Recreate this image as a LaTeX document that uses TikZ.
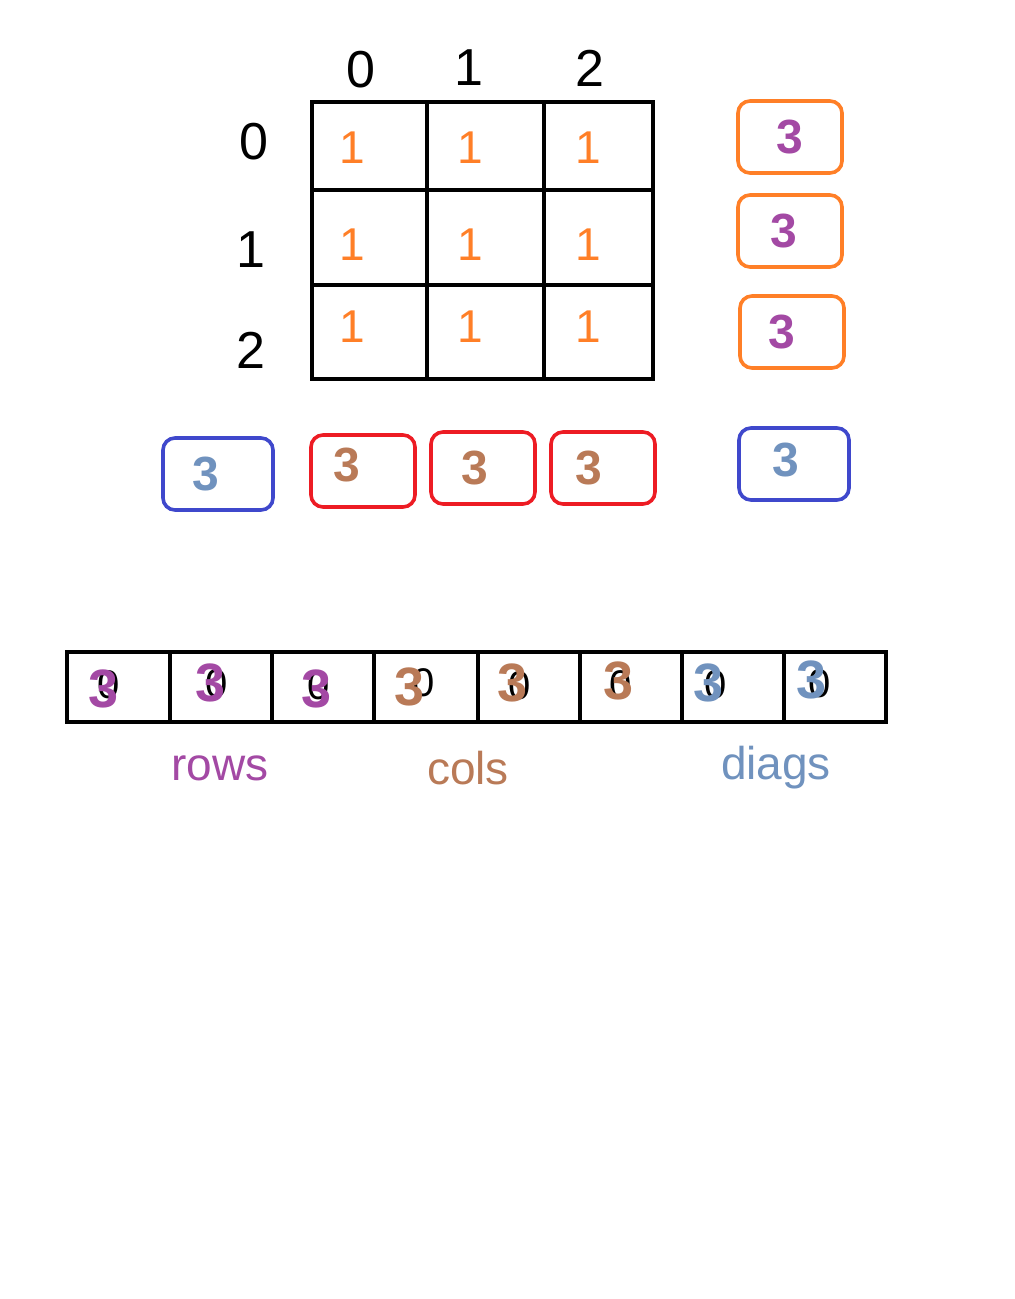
\documentclass[tikz,border=0pt]{standalone}
\usepackage{fontspec}
\setmainfont{Liberation Sans}
\usetikzlibrary{positioning}
\definecolor{paintorange}{HTML}{FF7F27}
\definecolor{paintpurple}{HTML}{A349A4}
\definecolor{paintbrown}{HTML}{B97A57}
\definecolor{paintsteel}{HTML}{7092BE}
\definecolor{paintblue}{HTML}{3F48CC}
\definecolor{paintred}{HTML}{ED1C24}
\tikzset{
  gridline/.style={line width=2pt, draw=black},
  idxlabel/.style={font=\fontsize{26}{28}\selectfont, text=black, inner sep=0pt},
  onecell/.style={font=\fontsize{23}{25}\selectfont, text=paintorange, inner sep=0pt},
  sumbox/.style={rectangle, rounded corners=6pt, line width=1.8pt, fill=white,
    minimum width=52pt, minimum height=36pt, inner sep=0pt},
  rowbox/.style={sumbox, draw=paintorange},
  colbox/.style={sumbox, draw=paintred},
  diagbox/.style={sumbox, draw=paintblue, minimum width=55pt},
  three/.style={font=\bfseries\fontsize{24}{26}\selectfont, inner sep=0pt},
  bigthree/.style={font=\bfseries\fontsize{27}{29}\selectfont, inner sep=0pt},
  zero/.style={font=\fontsize{20}{22}\selectfont, text=black, inner sep=0pt},
  arrlabel/.style={font=\fontsize{23}{25}\selectfont, inner sep=0pt}
}

\begin{document}
\begin{tikzpicture}[x=0.5pt, y=-0.5pt]
\useasboundingbox[fill=white] (0,0) rectangle (1015,1299);

% board
\draw[gridline] (312,102) rectangle (653,379);
\draw[gridline] (427,102) -- (427,379);
\draw[gridline] (544,102) -- (544,379);
\draw[gridline] (312,190) -- (653,190);
\draw[gridline] (312,285) -- (653,285);

\node[idxlabel] (c0) at (361,70) {0};
\node[idxlabel] (c1) at (469,68) {1};
\node[idxlabel] (c2) at (590,68) {2};
\node[idxlabel] (r0) at (254,142) {0};
\node[idxlabel] (r1) at (251,250) {1};
\node[idxlabel] (r2) at (251,350) {2};

\node[onecell] (m00) at (352,148) {1};
\node[onecell] (m01) at (470,148) {1};
\node[onecell] (m02) at (588,148) {1};
\node[onecell] (m10) at (352,245) {1};
\node[onecell] (m11) at (470,245) {1};
\node[onecell] (m12) at (588,245) {1};
\node[onecell] (m20) at (352,327) {1};
\node[onecell] (m21) at (470,327) {1};
\node[onecell] (m22) at (588,327) {1};

% row sums
\node[rowbox] (rs0) at (790,137) {};
\node[rowbox] (rs1) at (790,231) {};
\node[rowbox] (rs2) at (792,332) {};
\node[three, text=paintpurple] at (rs0) {3};
\node[three, text=paintpurple] at ([xshift=-3pt]rs1.center) {3};
\node[three, text=paintpurple] at ([xshift=-5pt]rs2.center) {3};

% column and diagonal sums
\node[diagbox] (ad) at (218,474) {};
\node[colbox] (cs0) at (363,471) {};
\node[colbox] (cs1) at (483,468) {};
\node[colbox] (cs2) at (603,468) {};
\node[diagbox] (dg) at (794,464) {};
\node[three, text=paintsteel] at ([xshift=-6pt]ad.center) {3};
\node[three, text=paintbrown] at ([xshift=-8pt,yshift=3pt]cs0.center) {3};
\node[three, text=paintbrown] at ([xshift=-4pt]cs1.center) {3};
\node[three, text=paintbrown] at ([xshift=-7pt]cs2.center) {3};
\node[three, text=paintsteel] at ([xshift=-4pt,yshift=2pt]dg.center) {3};

% counter array
\draw[gridline] (67,652) rectangle (886,722);
\draw[gridline] (170,652) -- (170,722);
\draw[gridline] (272,652) -- (272,722);
\draw[gridline] (374,652) -- (374,722);
\draw[gridline] (478,652) -- (478,722);
\draw[gridline] (580,652) -- (580,722);
\draw[gridline] (682,652) -- (682,722);
\draw[gridline] (784,652) -- (784,722);

\node[zero] (z0) at (109,685) {0};
\node[zero] (z1) at (217,684) {0};
\node[zero] (z2) at (319,686) {0};
\node[zero] (z3) at (424,683) {0};
\node[zero] (z4) at (520,686) {0};
\node[zero] (z5) at (621,685) {0};
\node[zero] (z6) at (716,685) {0};
\node[zero] (z7) at (820,684) {0};
\node[bigthree, text=paintpurple] at (104,689) {3};
\node[bigthree, text=paintpurple] at (211,683) {3};
\node[bigthree, text=paintpurple] at (317,689) {3};
\node[bigthree, text=paintbrown] at (410,687) {3};
\node[bigthree, text=paintbrown] at (513,683) {3};
\node[bigthree, text=paintbrown] at (619,681) {3};
\node[bigthree, text=paintsteel] at (709,683) {3};
\node[bigthree, text=paintsteel] at (812,680) {3};

\node[arrlabel, text=paintpurple] (rows) at (220,768) {rows};
\node[arrlabel, text=paintbrown] (cols) at (468,768) {cols};
\node[arrlabel, text=paintsteel] (diags) at (776,768) {diags};
\end{tikzpicture}
\end{document}
